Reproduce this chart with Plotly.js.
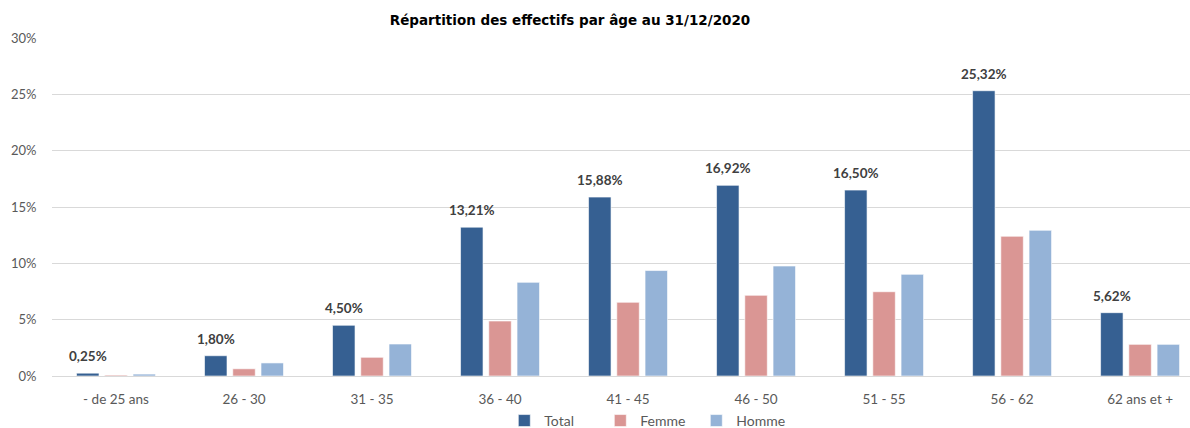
<!DOCTYPE html>
<html>
<head>
<meta charset="utf-8">
<script src="https://cdn.plot.ly/plotly-3.0.1.min.js"></script>
<style>html,body{margin:0;padding:0;background:#fff;}#chart{width:1190px;height:428px;}</style>
</head>
<body>
<div id="chart"></div>
<script>
const categories = ['- de 25 ans', '26 - 30', '31 - 35', '36 - 40', '41 - 45', '46 - 50', '51 - 55', '56 - 62', '62 ans et +'];
const total = [0.25, 1.80, 4.50, 13.21, 15.88, 16.92, 16.50, 25.32, 5.62];
const femme = [0.08, 0.64, 1.66, 4.88, 6.54, 7.16, 7.48, 12.40, 2.81];
const homme = [0.17, 1.16, 2.84, 8.31, 9.36, 9.76, 9.02, 12.93, 2.81];
const yTicks = [0, 5, 10, 15, 20, 25, 30];
const yTickLabels = ['0%', '5%', '10%', '15%', '20%', '25%', '30%'];

const fmt = v => v.toFixed(2).replace('.', ',') + '%';
const line = {color: 'rgba(255,255,255,0.6)', width: 1};

const traces = [
  {type: 'bar', name: 'Total', x: categories, y: total, marker: {color: '#366092', line: line}},
  {type: 'bar', name: 'Femme', x: categories, y: femme, marker: {color: '#DA9694', line: line}},
  {type: 'bar', name: 'Homme', x: categories, y: homme, marker: {color: '#95B3D7', line: line}}
];

const annotations = categories.map((c, i) => ({
  x: c, y: total[i], xref: 'x', yref: 'y', text: '<b>' + fmt(total[i]) + '</b>',
  showarrow: false, yanchor: 'middle', yshift: 17, xshift: -28.25,
  font: {family: 'Lato, "Open Sans", sans-serif', size: 13.5, color: '#404040'}
}));

const layout = {
  width: 1190, height: 428,
  margin: {l: 52, r: 0, t: 38, b: 52, autoexpand: false},
  paper_bgcolor: '#fff', plot_bgcolor: '#fff',
  title: {text: '<b>Répartition des effectifs par âge au 31/12/2020</b>', x: 0.479, xanchor: 'center', y: 0.953, yanchor: 'middle',
    font: {family: '"DejaVu Sans", Verdana, sans-serif', size: 13.5, color: '#000'}},
  barmode: 'group', bargap: 0.338, bargroupgap: 0.204,
  xaxis: {type: 'category', range: [-0.5, 8.39], showgrid: false, showline: true, linecolor: '#d9d9d9', linewidth: 1,
    ticks: 'outside', ticklen: 11, tickcolor: 'rgba(0,0,0,0)', automargin: false,
    tickfont: {family: 'Lato, "Open Sans", sans-serif', size: 13.5, color: '#595959'}},
  yaxis: {range: [0, 30], tickmode: 'array', tickvals: yTicks, ticktext: yTickLabels, showgrid: true, gridcolor: '#d9d9d9', gridwidth: 1,
    zeroline: false, showline: false, ticks: 'outside', ticklen: 12, tickcolor: 'rgba(0,0,0,0)', automargin: false,
    tickfont: {family: 'Lato, "Open Sans", sans-serif', size: 13, color: '#595959'}},
  legend: {orientation: 'h', x: 0.524, xanchor: 'center', y: -0.133, yanchor: 'middle',
    font: {family: 'Lato, "Open Sans", sans-serif', size: 14, color: '#595959'}, itemwidth: 30, tracegroupgap: 0,
    entrywidth: 51, entrywidthmode: 'pixels'},
  annotations: annotations,
  hovermode: false, showlegend: true
};

Plotly.newPlot('chart', traces, layout, {displayModeBar: false, staticPlot: true});
</script>
</body>
</html>
